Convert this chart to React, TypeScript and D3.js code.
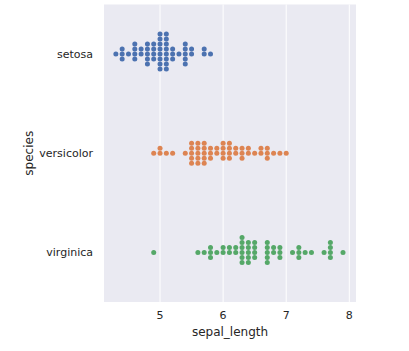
import React, { useRef, useEffect } from "react";
import * as d3 from "d3";

const species = ["setosa", "versicolor", "virginica"];

const setosa = [5.1, 4.9, 4.7, 4.6, 5.0, 5.4, 4.6, 5.0, 4.4, 4.9, 5.4, 4.8, 4.8, 4.3, 5.8, 5.7, 5.4, 5.1, 5.7, 5.1,
  5.4, 5.1, 4.6, 5.1, 4.8, 5.0, 5.0, 5.2, 5.2, 4.7, 4.8, 5.4, 5.2, 5.5, 4.9, 5.0, 5.5, 4.9, 4.4, 5.1,
  5.0, 4.5, 4.4, 5.0, 5.1, 4.8, 5.1, 4.6, 5.3, 5.0];
const versicolor = [7.0, 6.4, 6.9, 5.5, 6.5, 5.7, 6.3, 4.9, 6.6, 5.2, 5.0, 5.9, 6.0, 6.1, 5.6, 6.7, 5.6, 5.8, 6.2, 5.6,
  5.9, 6.1, 6.3, 6.1, 6.4, 6.6, 6.8, 6.7, 6.0, 5.7, 5.5, 5.5, 5.8, 6.0, 5.4, 6.0, 6.7, 6.3, 5.6, 5.5,
  5.5, 6.1, 5.8, 5.0, 5.6, 5.7, 5.7, 6.2, 5.1, 5.7];
const virginica = [6.3, 5.8, 7.1, 6.3, 6.5, 7.6, 4.9, 7.3, 6.7, 7.2, 6.5, 6.4, 6.8, 5.7, 5.8, 6.4, 6.5, 7.7, 7.7, 6.0,
  6.9, 5.6, 7.7, 6.3, 6.7, 7.2, 6.2, 6.1, 6.4, 7.2, 7.4, 7.9, 6.4, 6.3, 6.1, 7.7, 6.3, 6.4, 6.0, 6.9,
  6.7, 6.9, 5.8, 6.8, 6.7, 6.7, 6.3, 6.5, 6.2, 5.9];

const groups = [setosa, versicolor, virginica];
const xTicks = [5, 6, 7, 8];
const colors = ["#4C72B0", "#DD8452", "#55A868"];

// place dots closest to the category centre without overlapping (seaborn-like)
function swarm(values: number[], x: d3.ScaleLinear<number, number>, r: number) {
  const d = 2 * r;
  const pts = values.map(v => ({ v, px: x(v) })).sort((a, b) => a.px - b.px);
  const placed: { v: number; px: number; off: number }[] = [];
  pts.forEach(p => {
    const near = placed.filter(q => Math.abs(q.px - p.px) < d - 1e-6);
    const cands = [0];
    near.forEach(q => {
      const dy = Math.sqrt(d * d - (q.px - p.px) ** 2);
      cands.push(q.off - dy, q.off + dy);
    });
    cands.sort((a, b) => Math.abs(a) - Math.abs(b) || a - b);
    const off = cands.find(c => near.every(q => (q.px - p.px) ** 2 + (q.off - c) ** 2 >= d * d - 1e-6)) ?? 0;
    placed.push({ ...p, off });
  });
  return placed;
}

const App = () => {
  const svgRef = useRef<SVGSVGElement>(null);

  useEffect(() => {
    const width = 409, height = 351;
    const plot = { left: 104, right: 356, top: 4.5, bottom: 302 };
    const textColor = "#262626";
    const font = "DejaVu Sans, sans-serif";

    const svg = d3.select(svgRef.current)
      .attr("width", width)
      .attr("height", height)
      .style("background", "#fff");
    svg.selectAll("*").remove();

    const x = d3.scaleLinear().domain([4.112, 8.106]).range([plot.left, plot.right]);
    const y = d3.scalePoint<string>()
      .domain(species)
      .range([plot.top, plot.bottom])
      .padding(0.5);

    // background
    svg.append("rect")
      .attr("x", plot.left)
      .attr("y", plot.top)
      .attr("width", plot.right - plot.left)
      .attr("height", plot.bottom - plot.top)
      .attr("fill", "#EAEAF2");

    // vertical grid
    svg.selectAll(".grid")
      .data(xTicks)
      .enter().append("line")
      .attr("x1", d => x(d))
      .attr("x2", d => x(d))
      .attr("y1", plot.top)
      .attr("y2", plot.bottom)
      .attr("stroke", "#fff")
      .attr("stroke-width", 1);

    // swarms
    groups.forEach((vals, i) => {
      const pts = swarm(vals, x, 2.5);
      svg.append("g")
        .selectAll("circle")
        .data(pts)
        .enter().append("circle")
        .attr("cx", d => d.px)
        .attr("cy", d => (y(species[i]) as number) + d.off)
        .attr("r", 2.5)
        .attr("fill", colors[i]);
    });

    // x tick labels
    svg.selectAll(".xtick")
      .data(xTicks)
      .enter().append("text")
      .attr("x", d => x(d))
      .attr("y", 319)
      .attr("text-anchor", "middle")
      .style("font-family", font)
      .style("font-size", "11px")
      .attr("fill", textColor)
      .text(d => d);

    // y tick labels
    svg.selectAll(".ytick")
      .data(species)
      .enter().append("text")
      .attr("x", 93)
      .attr("y", d => y(d) as number)
      .attr("dy", "0.35em")
      .attr("text-anchor", "end")
      .style("font-family", font)
      .style("font-size", "11px")
      .attr("fill", textColor)
      .text(d => d);

    // axis labels
    svg.append("text")
      .attr("x", (plot.left + plot.right) / 2)
      .attr("y", 336)
      .attr("text-anchor", "middle")
      .style("font-family", font)
      .style("font-size", "12px")
      .attr("fill", textColor)
      .text("sepal_length");

    svg.append("text")
      .attr("transform", `translate(33, ${(plot.top + plot.bottom) / 2}) rotate(-90)`)
      .attr("text-anchor", "middle")
      .style("font-family", font)
      .style("font-size", "12px")
      .attr("fill", textColor)
      .text("species");
  }, []);

  return (
    <div style={{ position: "absolute", left: 0, top: 0 }}>
      <svg ref={svgRef}></svg>
    </div>
  );
};

export default App;
